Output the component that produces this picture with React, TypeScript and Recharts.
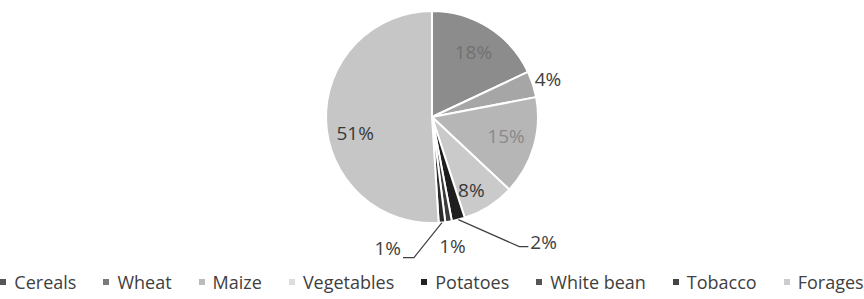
import React from 'react';
import { PieChart, Pie, Cell, Legend } from 'recharts';

const categories = ['Cereals', 'Wheat', 'Maize', 'Vegetables', 'Potatoes', 'White bean', 'Tobacco', 'Forages'];
const shares = [18, 4, 15, 8, 2, 1, 1, 51];
const shareLabels = ['18%', '4%', '15%', '8%', '2%', '1%', '1%', '51%'];

const sliceColors = ['#8c8c8c', '#a6a6a6', '#b6b6b6', '#cacaca', '#1e1e1e', '#3c3c3c', '#2a2a2a', '#c6c6c6'];
const legendColors = ['#555555', '#7a7a7a', '#bbbbbb', '#dddddd', '#222222', '#555555', '#444444', '#cccccc'];
const labelColors = ['#727272', '#404040', '#8a8a8a', '#3a3a3a', '#404040', '#404040', '#404040', '#3a3a3a'];
// how each data label is placed
const labelModes = ['inside', 'outside', 'inside', 'inside', 'leaderRight', 'below', 'leaderLeft', 'inside'];
const labelRadiusFactor = [0.73, 1, 0.72, 0.78, 1, 1, 1, 0.74];
const labelAngleShift = [0, 0, 2, -4, 0, 0, 0, 10];

const data = categories.map((name, i) => ({ name, value: shares[i], label: shareLabels[i] }));

const RAD = Math.PI / 180;
const FONT = '"Open Sans", "Liberation Sans", sans-serif';

function polar(cx: number, cy: number, r: number, angle: number) {
  return { x: cx + r * Math.cos(-angle * RAD), y: cy + r * Math.sin(-angle * RAD) };
}

function renderLabel(props: any) {
  const { cx, cy, midAngle, outerRadius, index } = props;
  const mode = labelModes[index];
  const text = shareLabels[index];
  const fill = labelColors[index];
  const common = { fontFamily: FONT, fontSize: 19, fill };
  if (mode === 'inside') {
    const p = polar(cx, cy, outerRadius * labelRadiusFactor[index], midAngle + labelAngleShift[index]);
    return (
      <text key={`l${index}`} x={p.x} y={p.y} textAnchor="middle" dominantBaseline="central" {...common}>
        {text}
      </text>
    );
  }
  if (mode === 'outside') {
    const p = polar(cx, cy, outerRadius + 16, midAngle);
    return (
      <text key={`l${index}`} x={p.x} y={p.y} textAnchor="middle" dominantBaseline="central" {...common}>
        {text}
      </text>
    );
  }
  if (mode === 'below') {
    const p = polar(cx, cy, outerRadius + 25, midAngle);
    return (
      <text key={`l${index}`} x={p.x} y={p.y} textAnchor="middle" dominantBaseline="central" {...common}>
        {text}
      </text>
    );
  }
  if (mode === 'leaderRight') {
    const s = polar(cx, cy, outerRadius, midAngle);
    const ex = s.x + 61;
    const ey = s.y + 27;
    return (
      <g key={`l${index}`}>
        <polyline points={`${s.x},${s.y} ${ex},${ey} ${ex + 9},${ey}`} fill="none" stroke="#404040" strokeWidth={1.2} />
        <text x={ex + 11} y={ey - 5} textAnchor="start" dominantBaseline="central" {...common}>
          {text}
        </text>
      </g>
    );
  }
  // leaderLeft
  const s = polar(cx, cy, outerRadius, midAngle);
  const ex = s.x - 28;
  const ey = s.y + 35;
  return (
    <g key={`l${index}`}>
      <polyline points={`${s.x},${s.y} ${ex},${ey} ${ex - 11},${ey}`} fill="none" stroke="#404040" strokeWidth={1.2} />
      <text x={ex - 13} y={ey - 10} textAnchor="end" dominantBaseline="central" {...common}>
        {text}
      </text>
    </g>
  );
}

function LegendContent() {
  return (
    <div
      style={{
        display: 'flex',
        justifyContent: 'center',
        alignItems: 'center',
        fontFamily: FONT,
        fontSize: 18,
        color: '#404040',
        whiteSpace: 'nowrap',
      }}
    >
      {categories.map((c, i) => (
        <div key={c} style={{ display: 'flex', alignItems: 'center', marginRight: i < categories.length - 1 ? 27 : 0 }}>
          <span style={{ display: 'inline-block', width: 6, height: 6, background: legendColors[i], marginRight: 8 }} />
          <span>{c}</span>
        </div>
      ))}
    </div>
  );
}

export default function App() {
  return (
    <div style={{ position: 'absolute', left: 0, top: 0, width: 864, height: 299, background: '#ffffff' }}>
      <PieChart width={864} height={299} margin={{ top: 0, right: 0, bottom: 0, left: 0 }}>
        <Pie
          data={data}
          dataKey="value"
          nameKey="name"
          cx={432}
          cy={117}
          outerRadius={106}
          startAngle={90}
          endAngle={-270}
          stroke="#ffffff"
          strokeWidth={2}
          label={renderLabel}
          labelLine={false}
          isAnimationActive={false}
        >
          {data.map((d, i) => (
            <Cell key={d.name} fill={sliceColors[i]} />
          ))}
        </Pie>
        <Legend content={<LegendContent />} wrapperStyle={{ top: 270, left: 0, width: 864 }} />
      </PieChart>
    </div>
  );
}
